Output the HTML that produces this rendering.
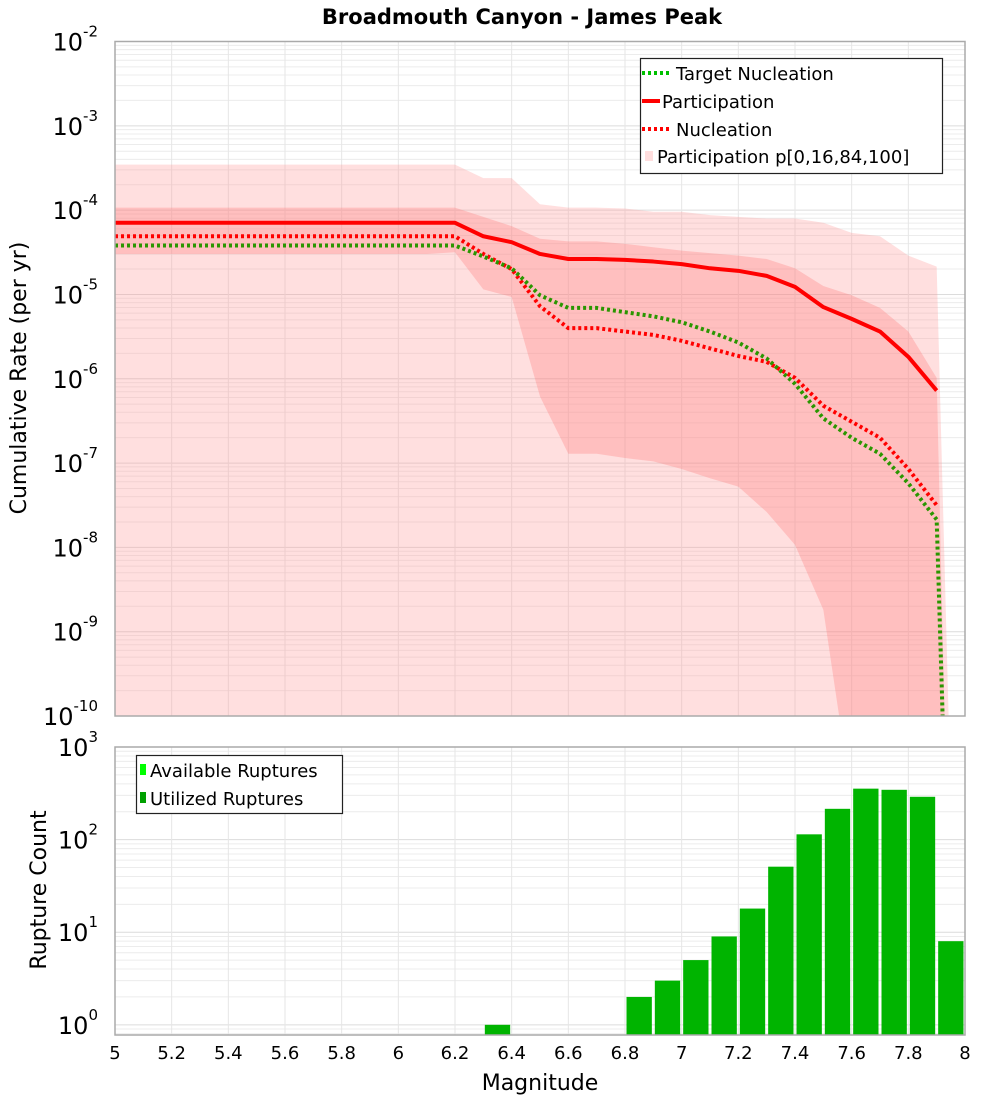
<!DOCTYPE html>
<html><head><meta charset="utf-8"><style>
body{margin:0;background:#fff;width:1000px;height:1100px;overflow:hidden;font-family:"DejaVu Sans","Liberation Sans",sans-serif}
</style></head><body>
<svg id="chart" width="1000" height="1100" xmlns="http://www.w3.org/2000/svg" font-family="DejaVu Sans, Liberation Sans, sans-serif">
<text x="522" y="24" text-anchor="middle" font-size="21" font-weight="bold">Broadmouth Canyon - James Peak</text>
<g id="topG"></g>
<g id="botG"></g>
<text transform="translate(26,378) rotate(-90)" text-anchor="middle" font-size="22">Cumulative Rate (per yr)</text>
<text transform="translate(46,890) rotate(-90)" text-anchor="middle" font-size="22">Rupture Count</text>
<text x="540" y="1090" text-anchor="middle" font-size="22">Magnitude</text>
</svg>
<script>
const mags=[5.0,5.1,5.2,5.3,5.4,5.5,5.6,5.7,5.8,5.9,6.0,6.1,6.2,6.3,6.4,6.5,6.6,6.7,6.8,6.9,7.0,7.1,7.2,7.3,7.4,7.5,7.6,7.7,7.8,7.9];
const partLog=[-4.15,-4.15,-4.15,-4.15,-4.15,-4.15,-4.15,-4.15,-4.15,-4.15,-4.15,-4.15,-4.15,-4.31,-4.38,-4.52,-4.58,-4.58,-4.59,-4.61,-4.64,-4.69,-4.72,-4.78,-4.91,-5.15,-5.29,-5.44,-5.74,-6.14];
const nuclLog=[-4.31,-4.31,-4.31,-4.31,-4.31,-4.31,-4.31,-4.31,-4.31,-4.31,-4.31,-4.31,-4.31,-4.52,-4.70,-5.14,-5.40,-5.40,-5.44,-5.48,-5.55,-5.64,-5.73,-5.80,-5.99,-6.32,-6.51,-6.70,-7.07,-7.50];
const targLog=[-4.42,-4.42,-4.42,-4.42,-4.42,-4.42,-4.42,-4.42,-4.42,-4.42,-4.42,-4.42,-4.42,-4.55,-4.69,-5.01,-5.16,-5.16,-5.21,-5.26,-5.33,-5.44,-5.57,-5.76,-6.06,-6.47,-6.70,-6.89,-7.24,-7.67];
const p100Log=[-3.46,-3.46,-3.46,-3.46,-3.46,-3.46,-3.46,-3.46,-3.46,-3.46,-3.46,-3.46,-3.46,-3.62,-3.62,-3.93,-3.97,-3.97,-3.98,-4.02,-4.02,-4.06,-4.08,-4.10,-4.10,-4.15,-4.27,-4.31,-4.54,-4.67];
const p84Log=[-3.97,-3.97,-3.97,-3.97,-3.97,-3.97,-3.97,-3.97,-3.97,-3.97,-3.97,-3.97,-3.97,-4.08,-4.19,-4.34,-4.37,-4.37,-4.40,-4.44,-4.48,-4.51,-4.54,-4.58,-4.69,-4.90,-5.01,-5.16,-5.44,-5.99];
const p16Log=[-4.52,-4.52,-4.52,-4.52,-4.52,-4.52,-4.52,-4.52,-4.52,-4.52,-4.52,-4.52,-4.50,-4.94,-5.03,-6.21,-6.89,-6.89,-6.94,-6.98,-7.07,-7.18,-7.28,-7.58,-7.97,-8.74,-11,-11,-11,-11];
const barMags=[6.3,6.8,6.9,7.0,7.1,7.2,7.3,7.4,7.5,7.6,7.7,7.8,7.9];
const barCounts=[1,2,3,5,9,18,51,114,215,355,345,290,8];
const xTicks=[5,5.2,5.4,5.6,5.8,6,6.2,6.4,6.6,6.8,7,7.2,7.4,7.6,7.8,8];
const topDecades=[-2,-3,-4,-5,-6,-7,-8,-9,-10];
const botDecades=[3,2,1,0];

const NS='http://www.w3.org/2000/svg';
const L=115,R=965;
const xs=m=>L+(m-5)*(R-L)/3;
const T0=41.5,T1=716;
const yT=lg=>T0+(-2-lg)*(T1-T0)/8;
const B0=747,B1=1035,BMIN=-0.11;
const yB=lg=>B0+(3-lg)*(B1-B0)/(3-BMIN);
function mk(tag,attrs,parent){const e=document.createElementNS(NS,tag);for(const k in attrs)e.setAttribute(k,attrs[k]);parent.appendChild(e);return e;}
const topG=document.getElementById('topG'),botG=document.getElementById('botG');

function frame(g,y0,y1,yf,dmin,dmax,name){
  const bg=mk('rect',{x:L,y:y0,width:R-L,height:y1-y0,fill:'#fff'},g);
  
  
  for(let d=Math.floor(dmin);d<dmax;d++){for(let k=1;k<10;k++){const yy=yf(d+Math.log10(k));if(yy<y0||yy>y1)continue;
    const ln=mk('line',{x1:L,x2:R,y1:yy,y2:yy,stroke:k==1?'#dcdcdc':'#ececec','stroke-width':1},g);
    
    }}
  xTicks.forEach(t=>{const ln=mk('line',{x1:xs(t),x2:xs(t),y1:y0,y2:y1,stroke:'#e6e6e6','stroke-width':1},g);
    
    });
}
function border(g,y0,y1,name){const b=mk('rect',{x:L,y:y0,width:R-L,height:y1-y0,fill:'none',stroke:'#aaa','stroke-width':1.5},g);
  
  }
function ylabel(g,d,yy){const t=mk('text',{x:98,y:yy+9,'text-anchor':'end','font-size':24},g);
  
  
  t.textContent='10';const s=mk('tspan',{dy:-14,'font-size':15},t);s.textContent=d;}

frame(topG,T0,T1,yT,-10,-2,'rate-plot');
const clip=mk('clipPath',{id:'cp'},topG);mk('rect',{x:L,y:T0,width:R-L,height:T1-T0},clip);
const pg=mk('g',{'clip-path':'url(#cp)'},topG);
function band(upper,lower,endX,fill,name){
  let d='M'+xs(mags[0])+','+yT(upper[0]);
  mags.forEach((m,i)=>d+=' L'+xs(m)+','+yT(upper[i]));
  d+=' L'+xs(endX)+','+yT(-11);
  for(let i=mags.length-1;i>=0;i--)d+=' L'+xs(mags[i])+','+yT(lower[i]);
  d+='Z';
  const p=mk('path',{d:d,fill:fill},pg);
  
  
}
band(p100Log,mags.map(()=>-11),7.95,'rgba(255,150,150,0.3)','band-p0-p100');
band(p84Log,p16Log,7.935,'rgba(255,120,120,0.3)','band-p16-p84');
function line(vals,color,dash,name,extra){
  let d='';mags.forEach((m,i)=>d+=(i?' L':'M')+xs(m)+','+yT(vals[i]));
  if(extra)d+=' L'+xs(extra[0])+','+yT(extra[1]);
  const p=mk('path',{d:d,fill:'none',stroke:color,'stroke-width':4,'stroke-dasharray':dash||'none','stroke-linejoin':'round'},pg);
  
  
}
line(partLog,'#ff0000',null,'participation-line');
line(nuclLog,'#ff0000','3,3','nucleation-line');
line(targLog,'#2a9600','3,3','target-nucleation-line',[7.93,-11]);
border(topG,T0,T1,'rate-plot');
topDecades.forEach(d=>ylabel(topG,d,yT(d)));

const lg=mk('g',{},topG);


mk('rect',{x:640.5,y:58.5,width:302,height:115,fill:'#fff',stroke:'#222','stroke-width':1.2},lg);
const leg=[['Target Nucleation','#00c000','3,3',4],['Participation','#ff0000','none',4],['Nucleation','#ff0000','3,3',4]];
leg.forEach((e,i)=>{const yy=73+i*28;
  mk('line',{x1:642,x2:e[2]=='none'?660:669,y1:yy,y2:yy,stroke:e[1],'stroke-width':e[3],'stroke-dasharray':e[2]},lg);
  const t=mk('text',{x:e[2]=='none'?662:676,y:yy+7,'font-size':18},lg);
  
  
  t.textContent=e[0];});
mk('rect',{x:645,y:151,width:8,height:10,fill:'#ffdede'},lg);
const lt=mk('text',{x:657,y:163,'font-size':18},lg);


lt.textContent='Participation p[0,16,84,100]';

frame(botG,B0,B1,yB,-1,3,'count-plot');
const w=(R-L)/30;
barMags.forEach((m,i)=>{const yy=yB(Math.log10(barCounts[i]));
  const r=mk('rect',{x:xs(m)+1.5,y:yy,width:w-3,height:B1-yy,fill:'#00b400'},botG);
  
  });
border(botG,B0,B1,'count-plot');
botDecades.forEach(d=>ylabel(botG,d,yB(d)));
const bl=mk('g',{},botG);


mk('rect',{x:136.5,y:755.5,width:206,height:58,fill:'#fff',stroke:'#222','stroke-width':1.2},bl);
mk('rect',{x:140,y:764,width:6,height:11,fill:'#00ff00'},bl);
mk('rect',{x:140,y:792,width:6,height:11,fill:'#00a000'},bl);
[['Available Ruptures',777],['Utilized Ruptures',805]].forEach(e=>{const t=mk('text',{x:150,y:e[1],'font-size':18},bl);
  
  
  t.textContent=e[0];});
xTicks.forEach(t=>{const tx=mk('text',{x:xs(t),y:1059,'text-anchor':'middle','font-size':18},botG);
  
  
  tx.textContent=String(t);});
</script>
</body></html>
